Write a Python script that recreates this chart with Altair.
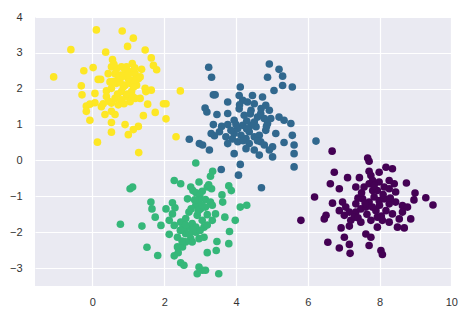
import altair as alt
import pandas as pd

# Cluster 0 (purple)
c0_x = [6.68, 7.67, 7.71, 6.74, 6.63, 6.88, 7.11, 7.44, 7.71, 7.76, 7.99, 8.18, 8.36,
        7.34, 7.57, 7.71, 7.81, 7.99, 8.13, 8.27, 8.41, 8.45, 8.75, 8.99, 9.29, 9.49,
        8.96, 6.19, 6.69, 6.97, 7.06, 6.88, 7.02, 7.16, 7.34, 7.48, 7.53, 7.71, 7.85,
        7.99, 8.13, 8.27, 8.45, 8.64, 8.78, 6.51, 6.46, 7.20, 7.48, 7.76, 7.94, 8.08,
        8.27, 8.55, 8.87, 6.93, 7.16, 7.94, 8.50, 8.69, 7.62, 7.76, 7.02, 5.81, 6.56,
        6.88, 7.16, 7.18, 7.71, 8.04, 8.08, 7.62, 7.90, 8.18, 8.36, 7.34, 7.81, 7.94,
        8.27, 7.30, 8.64,
        7.40, 7.60, 7.80, 8.00, 7.65, 7.50, 8.10, 7.85, 8.30, 7.40, 8.05]
c0_y = [0.26, 0.07, -0.02, -0.33, -0.65, -0.79, -0.48, -0.48, -0.30, -0.42, -0.33, -0.19, -0.23,
        -0.74, -0.74, -0.65, -0.84, -0.60, -0.74, -0.79, -0.65, -0.88, -0.63, -0.91, -1.04, -1.24,
        -1.10, -1.02, -1.19, -1.16, -1.30, -1.40, -1.53, -1.44, -1.44, -1.35, -1.07, -1.16, -1.02,
        -1.12, -1.07, -1.21, -1.16, -1.26, -1.30, -1.53, -1.63, -1.67, -1.72, -1.67, -1.58, -1.67,
        -1.72, -1.63, -1.63, -1.88, -1.83, -1.86, -1.86, -1.88, -2.05, -2.14, -2.14, -1.67, -2.28,
        -2.44, -2.34, -2.59, -2.37, -2.51, -2.62, -1.30, -1.40, -1.40, -1.49, -1.21, -0.56, -0.84,
        -0.56, -1.58, -1.44,
        -1.05, -1.20, -1.30, -1.25, -1.50, -0.90, -0.95, -0.70, -1.05, -1.60, -1.55]

# Cluster 1 (blue)
c1_x = [3.24, 3.32, 4.93, 5.20, 5.30, 4.88, 5.30, 5.06, 5.57, 4.12, 3.37, 3.42, 3.77,
        4.09, 4.19, 4.32, 4.46, 4.51, 4.74, 3.14, 3.19, 3.47, 3.77, 4.09, 4.42, 4.83,
        4.93, 5.20, 5.34, 5.53, 3.37, 3.77, 3.95, 4.19, 4.51, 4.60, 4.79, 4.97, 4.56,
        4.83, 5.11, 3.31, 3.40, 2.70, 2.98, 3.07, 3.26, 3.72, 3.77, 3.95, 4.14, 4.28,
        4.05, 4.37, 4.28, 3.95, 4.51, 4.69, 4.79, 4.93, 5.02, 5.02, 4.65, 5.34, 5.57,
        5.62, 5.62, 4.12, 4.07, 5.62, 4.71, 3.59, 6.23, 4.23, 4.37, 4.51, 4.65, 4.05,
        3.54, 3.86, 4.42, 4.69, 4.88,
        4.00, 4.30, 4.30, 3.90, 4.20, 4.60, 4.40, 4.10, 4.70, 3.60, 4.85]
c1_y = [2.60, 2.32, 2.69, 2.54, 2.35, 2.32, 2.09, 1.95, 2.05, 2.05, 1.83, 1.83, 1.63,
        1.81, 1.68, 1.63, 1.81, 1.58, 1.77, 1.46, 1.35, 1.28, 1.31, 1.44, 1.40, 1.54,
        1.40, 1.21, 1.12, 1.03, 1.00, 1.00, 1.12, 0.98, 1.07, 1.21, 1.17, 1.17, 0.94,
        0.84, 0.75, 0.75, 0.69, 0.59, 0.47, 0.43, 0.29, 0.66, 0.47, 0.75, 0.70, 0.61,
        0.52, 0.47, 0.33, 0.19, 0.29, 0.52, 0.43, 0.29, 0.38, 0.10, 0.15, 0.50, 0.70,
        0.43, 0.19, -0.11, -0.41, -0.18, -0.76, -0.25, 0.54, 1.26, 0.80, 0.66, 0.70, 0.89,
        0.80, 0.84, 0.98, 1.31, 1.03,
        1.00, 1.10, 0.88, 0.60, 0.55, 0.55, 1.30, 1.55, 1.45, 0.95, 0.95]

# Cluster 2 (green)
c2_x = [2.88, 3.35, 3.29, 2.28, 2.46, 2.97, 2.74, 2.80, 2.89, 3.06, 3.20, 3.32, 3.24,
        1.05, 1.12, 3.80, 3.87, 3.61, 3.63, 2.65, 2.99, 3.15, 3.29, 1.63, 1.66, 1.75,
        2.05, 2.23, 2.30, 2.88, 3.01, 3.15, 3.34, 2.92, 3.20, 3.43, 3.06, 3.34, 4.12,
        4.30, 3.69, 3.98, 0.78, 1.38, 1.91, 2.14, 2.28, 2.46, 2.65, 2.78, 2.14, 2.37,
        2.60, 2.74, 2.88, 2.97, 3.11, 3.11, 2.88, 3.82, 3.47, 3.45, 3.80, 2.37, 2.51,
        2.39, 3.20, 1.52, 1.82, 2.28, 2.46, 2.55, 2.97, 3.06, 3.15, 2.92, 3.52, 2.60,
        2.69, 2.51, 2.78, 2.60, 2.23, 2.97,
        2.75, 2.95, 2.60, 2.80, 3.00, 2.45, 2.70, 3.05, 2.85, 3.20, 2.50]
c2_y = [-0.07, -0.30, -0.44, -0.56, -0.65, -0.60, -0.74, -0.84, -0.90, -0.86, -0.74, -0.79, -0.68,
        -0.79, -0.74, -0.71, -0.84, -0.96, -1.16, -1.07, -0.97, -1.09, -1.16, -1.16, -1.35, -1.58,
        -1.35, -1.18, -1.32, -1.25, -1.35, -1.30, -1.25, -1.53, -1.51, -1.49, -1.67, -1.67, -1.30,
        -1.25, -1.58, -1.67, -1.78, -1.83, -1.81, -1.67, -1.81, -1.72, -1.86, -1.76, -2.06, -2.14,
        -2.04, -2.18, -2.00, -2.18, -2.14, -1.86, -1.86, -1.98, -2.26, -2.51, -2.32, -2.41, -2.41,
        -2.57, -2.57, -2.42, -2.65, -2.66, -2.85, -2.92, -2.97, -3.06, -3.06, -3.16, -3.16, -1.62,
        -1.44, -1.90, -2.27, -2.27, -1.49, -1.11,
        -1.35, -1.40, -1.80, -1.95, -1.95, -1.95, -2.05, -1.25, -1.10, -1.80, -2.25]

# Cluster 3 (yellow)
c3_x = [0.11, 0.83, 1.14, 0.98, -0.60, 0.37, 1.47, 1.64, 0.56, 1.70, 1.79, 0.02, -0.24,
        -1.08, 1.11, 1.37, 0.53, 0.67, 0.81, 0.95, 0.63, 0.77, 1.05, 1.19, 1.33, 0.44,
        0.91, 0.16, 0.23, -0.31, -0.29, 0.07, 0.39, 0.67, 0.91, 1.05, 1.23, 1.28, 0.53,
        0.81, 1.09, 1.49, 1.64, 2.45, 1.98, 2.05, -0.17, -0.07, 0.07, -0.17, 0.30, 0.53,
        0.63, 0.81, 0.95, 1.19, 1.33, 1.05, 1.54, 1.75, 1.42, 0.35, 0.63, 0.53, -0.07,
        0.53, 2.05, 0.91, 1.28, 1.14, 1.00, 0.53, 2.33, 0.14, 0.39, 0.72, 1.47, 0.49,
        1.14, 1.00, 0.77, 0.25, 1.29,
        0.72, 0.86, 1.00, 0.58, 0.86, 1.15, 0.70, 0.98, 1.12, 0.45, 0.88, 1.18, 0.60]
c3_y = [3.64, 3.61, 3.41, 3.18, 3.09, 3.02, 3.08, 2.86, 2.81, 2.65, 2.53, 2.59, 2.50,
        2.33, 2.70, 2.54, 2.61, 2.56, 2.61, 2.61, 2.42, 2.38, 2.47, 2.42, 2.33, 2.42,
        2.51, 2.26, 2.26, 2.08, 1.83, 1.87, 1.94, 2.15, 2.10, 2.15, 2.10, 2.28, 2.01,
        1.92, 1.92, 1.92, 1.96, 1.94, 1.58, 1.58, 1.52, 1.57, 1.61, 1.37, 1.58, 1.60,
        1.73, 1.69, 1.78, 1.73, 1.73, 1.64, 1.57, 1.34, 1.25, 1.28, 1.28, 1.37, 1.12,
        1.06, 1.16, 1.00, 0.95, 0.86, 0.72, 0.79, 0.66, 0.51, 1.78, 1.55, 2.01, 2.19,
        2.24, 2.28, 2.19, 1.50, 0.22,
        2.30, 2.35, 2.40, 2.20, 2.05, 2.05, 1.85, 1.85, 1.78, 1.65, 1.58, 2.58, 2.68]

colors = ["#440154", "#31688e", "#35b779", "#fde725"]

rows = []
for k, (xs, ys) in enumerate([(c0_x, c0_y), (c1_x, c1_y), (c2_x, c2_y), (c3_x, c3_y)]):
    for xv, yv in zip(xs, ys):
        rows.append({"x": xv, "y": yv, "cluster": k})
df = pd.DataFrame(rows)

x_ticks = [0, 2, 4, 6, 8, 10]
y_ticks = [-3, -2, -1, 0, 1, 2, 3, 4]

chart = alt.Chart(df).mark_circle(size=58, opacity=1).encode(
    x=alt.X("x:Q", scale=alt.Scale(domain=[-1.6, 10.02], nice=False, zero=False),
            axis=alt.Axis(values=x_ticks, title=None, labelFlush=False, labelPadding=10)),
    y=alt.Y("y:Q", scale=alt.Scale(domain=[-3.5, 4.0], nice=False, zero=False),
            axis=alt.Axis(values=y_ticks, title=None, labelPadding=13, labelFlush=False)),
    color=alt.Color("cluster:N", scale=alt.Scale(domain=[0, 1, 2, 3], range=colors), legend=None),
).properties(
    width=417, height=269,
    autosize=alt.AutoSizeParams(type="none"),
    padding={"left": 35, "top": 17, "right": 15, "bottom": 39},
    background="white",
).configure_view(
    fill="#EAEAF2", stroke=None
).configure_axis(
    grid=True, gridColor="white", gridWidth=1.2, domain=False, ticks=False,
    labelFont="Liberation Sans", labelFontSize=11, labelColor="#333333",
    labelOverlap=False
)

chart.save("out.html", embed_options={"renderer": "svg", "actions": False})
